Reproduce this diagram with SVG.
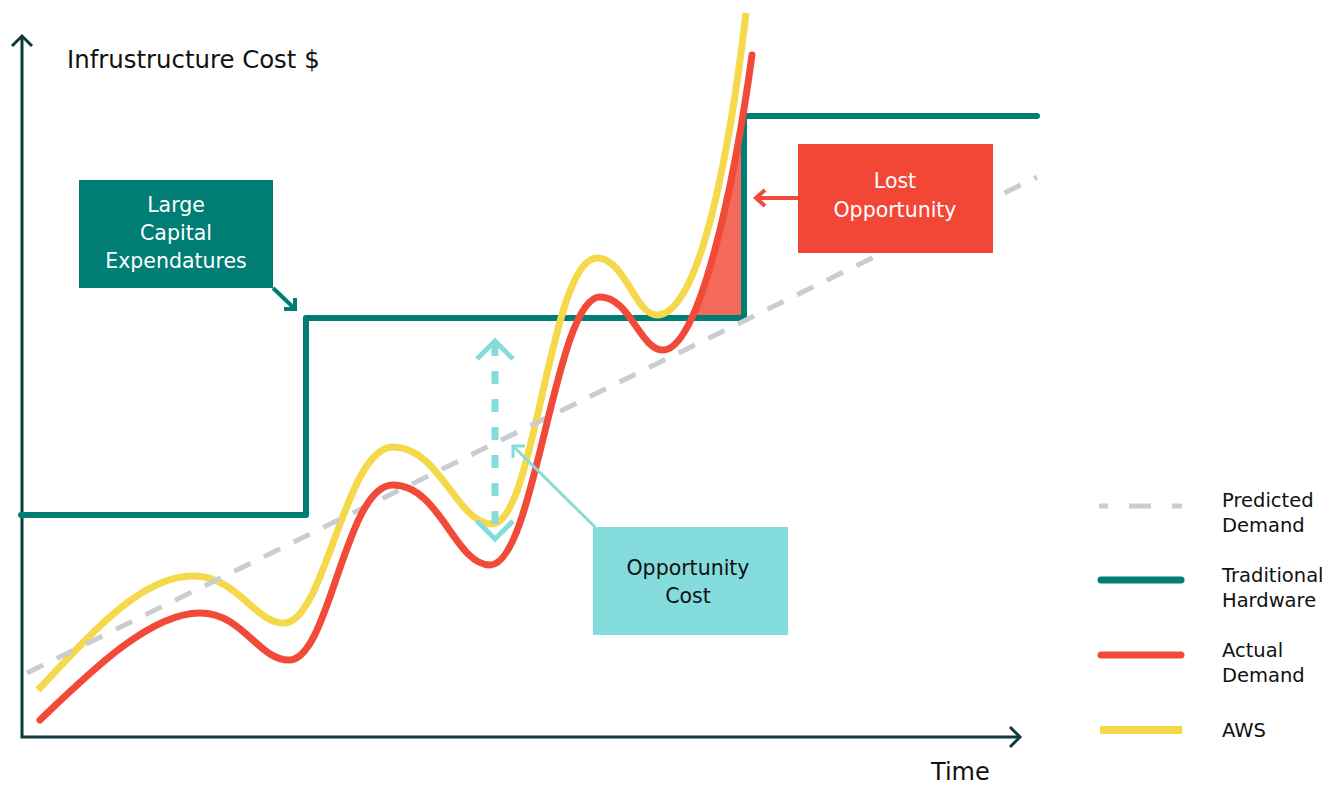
<svg xmlns="http://www.w3.org/2000/svg" width="1340" height="786" viewBox="0 0 1340 786">
<style>
text{font-family:"DejaVu Sans","Liberation Sans",sans-serif;fill:#111}
.box-t{font-size:20.5px;text-anchor:middle}
.leg{font-size:19.5px}
.axis{stroke:#0f3a3d;stroke-width:3;fill:none}
.teal{stroke:#007d75;stroke-width:6;fill:none;stroke-linejoin:round;stroke-linecap:round}
.red{stroke:#f24a38;stroke-width:7;fill:none;stroke-linecap:round}
.yel{stroke:#f5d94a;stroke-width:7;fill:none}
.gray{stroke:#c9cdd1;stroke-width:5;fill:none;stroke-dasharray:18 15}
.cyan{stroke:#84dcdc;fill:none}
</style>
<defs>
<clipPath id="lostClip"><rect x="600" y="0" width="144" height="318"/></clipPath>
</defs>
<rect width="1340" height="786" fill="#fff"/>
<g id="axes">
<path class="axis" d="M22,36 V737 H1020"/>
<path class="axis" d="M12,46 L22,36 L32,46"/>
<path class="axis" d="M1010,727 L1020,737 L1010,747"/>
<text x="67" y="68" style="font-size:24.4px">Infrustructure Cost $</text>
<text x="931" y="780" style="font-size:24px">Time</text>
</g>
<g id="lost-fill">
<path d="M663,350 C700,350 735,180 752,55 L820,55 L820,400 Z" fill="#f36a5a" clip-path="url(#lostClip)"/>
</g>
<g id="traditional-hardware">
<path class="teal" d="M21,515 H306 V318 H744 V116 H1037"/>
</g>
<g id="aws">
<path class="yel" d="M38,690 C90,635 140,576 193,576 C238,576 254,623 284,623 C325,623 345,447 393,447 C440,447 457,524 492,524 C535,524 550,258 597,258 C625,258 635,315 657,315 C700,315 730,150 746,13"/>
</g>
<g id="predicted-demand">
<path class="gray" d="M27,673 L1037,177"/>
</g>
<g id="actual-demand">
<path class="red" d="M40,720 C90,672 150,613 200,613 C243,613 258,660 289,660 C330,660 345,485 393,485 C440,485 455,565 490,565 C535,565 555,297 600,297 C630,297 640,350 663,350 C700,350 735,180 752,55"/>
</g>
<g id="connectors">
<path class="cyan" d="M495,343 V537" style="stroke-width:7;stroke-dasharray:13 15"/>
<path class="cyan" d="M477,359 L495,341 L513,359" style="stroke-width:5"/>
<path class="cyan" d="M477,521 L495,539 L513,521" style="stroke-width:5"/>
<path class="cyan" d="M595,527 L513,446" style="stroke-width:3"/>
<path class="cyan" d="M525,446 L513,446 L513,458" style="stroke-width:3"/>
<path d="M798,198 H755 M765,190 L756,198 L765,206" stroke="#f24a38" stroke-width="4" fill="none"/>
<path d="M273,288 L295,309 M284,309 L295,309 L295,298" stroke="#007d75" stroke-width="4" fill="none"/>
</g>
<g id="large-capital">
<rect x="79" y="180" width="194" height="108" fill="#007d75"/>
<text class="box-t" x="176" y="212" style="fill:#fff">Large</text>
<text class="box-t" x="176" y="240" style="fill:#fff">Capital</text>
<text class="box-t" x="176" y="268" style="fill:#fff">Expendatures</text>
</g>
<g id="lost-opportunity">
<rect x="798" y="144" width="195" height="109" fill="#f24636"/>
<text class="box-t" x="895" y="188" style="fill:#fff">Lost</text>
<text class="box-t" x="895" y="217" style="fill:#fff">Opportunity</text>
</g>
<g id="opportunity-cost">
<rect x="593" y="527" width="195" height="108" fill="#84dcdc"/>
<text class="box-t" x="688" y="575">Opportunity</text>
<text class="box-t" x="688" y="603">Cost</text>
</g>
<g id="legend">
<path d="M1099,506 H1182" stroke="#c9cdd1" stroke-width="5" stroke-dasharray="22 21" stroke-dashoffset="13"/>
<text class="leg" x="1222" y="507">Predicted</text>
<text class="leg" x="1222" y="532">Demand</text>
<path d="M1101,580 H1181" stroke="#007d75" stroke-width="7" stroke-linecap="round"/>
<text class="leg" x="1222" y="582">Traditional</text>
<text class="leg" x="1222" y="607">Hardware</text>
<path d="M1101,655 H1181" stroke="#f24a38" stroke-width="7" stroke-linecap="round"/>
<text class="leg" x="1222" y="657">Actual</text>
<text class="leg" x="1222" y="682">Demand</text>
<path d="M1100,730 H1182" stroke="#f5d94a" stroke-width="8"/>
<text class="leg" x="1222" y="737">AWS</text>
</g>
</svg>
